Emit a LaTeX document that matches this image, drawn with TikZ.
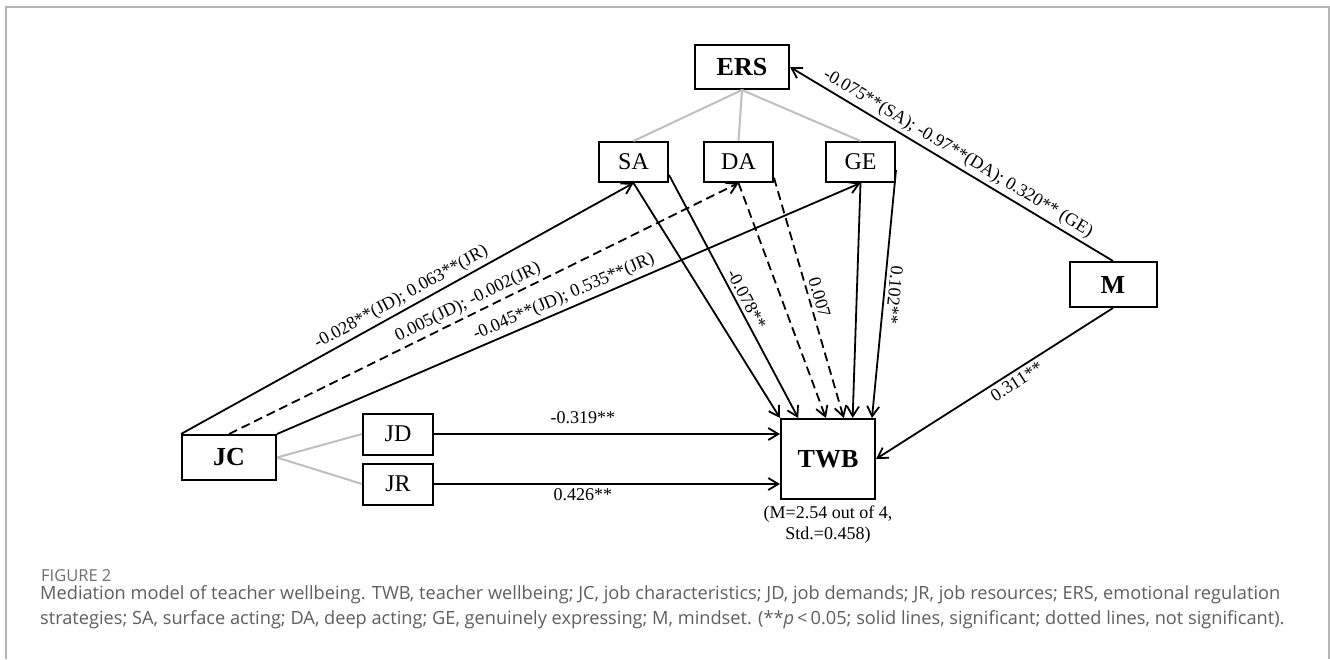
\documentclass[tikz,border=0pt]{standalone}
\usepackage{fontspec}
\setmainfont{Liberation Serif}
\newfontfamily\capfont{Open Sans}
\usetikzlibrary{arrows.meta}
\definecolor{capgray}{HTML}{5E5E5E}
\definecolor{framegray}{HTML}{B4B4B4}

\begin{document}
\begin{tikzpicture}[x=1pt,y=-1pt,
  box/.style={draw,line width=2pt,inner sep=0pt,font=\fontsize{24}{24}\selectfont},
  bigbox/.style={box,font=\fontsize{26}{26}\selectfont\bfseries},
  link/.style={draw=black!25,line width=2pt},
  eff/.style={line width=1.8pt,-{Straight Barb[length=10pt,width=12pt]}},
  ns/.style={eff,dash pattern=on 9pt off 5pt},
  lab/.style={font=\fontsize{18}{18}\selectfont,sloped},
  capline/.style={anchor=base west,inner sep=0pt,text=capgray}]
\useasboundingbox (0,0) rectangle (1330,659);
\draw[framegray,line width=2pt] (6,659) -- (6,7) -- (1329,7) -- (1329,659);

% boxes
\node[bigbox,minimum width=94,minimum height=44] (ERS) at (742,67) {ERS};
\node[box,minimum width=69,minimum height=40] (SA) at (633.5,162) {SA};
\node[box,minimum width=69,minimum height=40] (DA) at (738.5,162) {DA};
\node[box,minimum width=69,minimum height=40] (GE) at (860.5,162) {GE};
\node[bigbox,minimum width=87,minimum height=45] (M) at (1113,284.5) {M};
\node[bigbox,minimum width=94,minimum height=45] (JC) at (229,457.5) {JC};
\node[box,minimum width=70,minimum height=41] (JD) at (398,434) {JD};
\node[box,minimum width=70,minimum height=41] (JR) at (398,484) {JR};
\node[bigbox,minimum width=94,minimum height=80] (TWB) at (828,459) {TWB};
\node[anchor=north,align=center,font=\fontsize{18}{21}\selectfont] (stat) at (828,502) {(M=2.54 out of 4,\\Std.=0.458)};

% grey links
\foreach \n in {SA,DA,GE}
  \draw[link] (ERS.south) -- (\n.north);
\foreach \n in {JD,JR}
  \draw[link] (JC.east) -- (\n.west);

% JC to ERS
\draw[eff] (JC.north west) -- node[lab,above] {-0.028**(JD); 0.063**(JR)} (SA.south);
\draw[ns] (JC.north) -- node[lab,above,pos=0.48] {0.005(JD); -0.002(JR)} (DA.south);
\draw[eff] (JC.north east) -- node[lab,above,pos=0.5] {-0.045**(JD); 0.535**(JR)} (GE.south);

% ERS to TWB
\draw[eff] (SA.south) -- (TWB.north west);
\draw[eff] (SA.-20) -- node[lab,above,pos=0.53] {-0.078**} (TWB.126);
\draw[ns] (DA.south) -- (TWB.93);
\draw[ns] (DA.-24) -- node[lab,above,pos=0.51] {0.007} (TWB.69);
\draw[eff] (GE.south) -- (TWB.59);
\draw[eff] (GE.-13) -- node[lab,above,allow upside down] {0.102**} (TWB.43);

% JD, JR to TWB
\draw[eff] (JD.east) -- node[lab,above=6pt,pos=0.43] {-0.319**} (JD.east -| TWB.west);
\draw[eff] (JR.east) -- node[lab,below,pos=0.43] {0.426**} (JR.east -| TWB.west);

% M
\draw[eff] (M.north) -- node[lab,above] {-0.075**(SA); -0.97**(DA); 0.320** (GE)} (ERS.east);
\draw[eff] (M.south) -- node[lab,below,pos=0.43] {0.311**} (TWB.east);

% caption
\node[capline,text=capgray!90] (fig) at (41,581) {\capfont\fontsize{16.5}{17}\selectfont FIGURE 2};
\node[capline] (cap1) at (40,599) {\capfont\fontsize{18.2}{24}\selectfont Mediation model of teacher wellbeing. TWB, teacher wellbeing; JC, job characteristics; JD, job demands; JR, job resources; ERS, emotional regulation};
\node[capline] (cap2) at (40,624) {\capfont\fontsize{18.2}{24}\selectfont strategies; SA, surface acting; DA, deep acting; GE, genuinely expressing; M, mindset. (**\textit{p}\,<\,0.05; solid lines, significant; dotted lines, not significant).};
\end{tikzpicture}
\end{document}
